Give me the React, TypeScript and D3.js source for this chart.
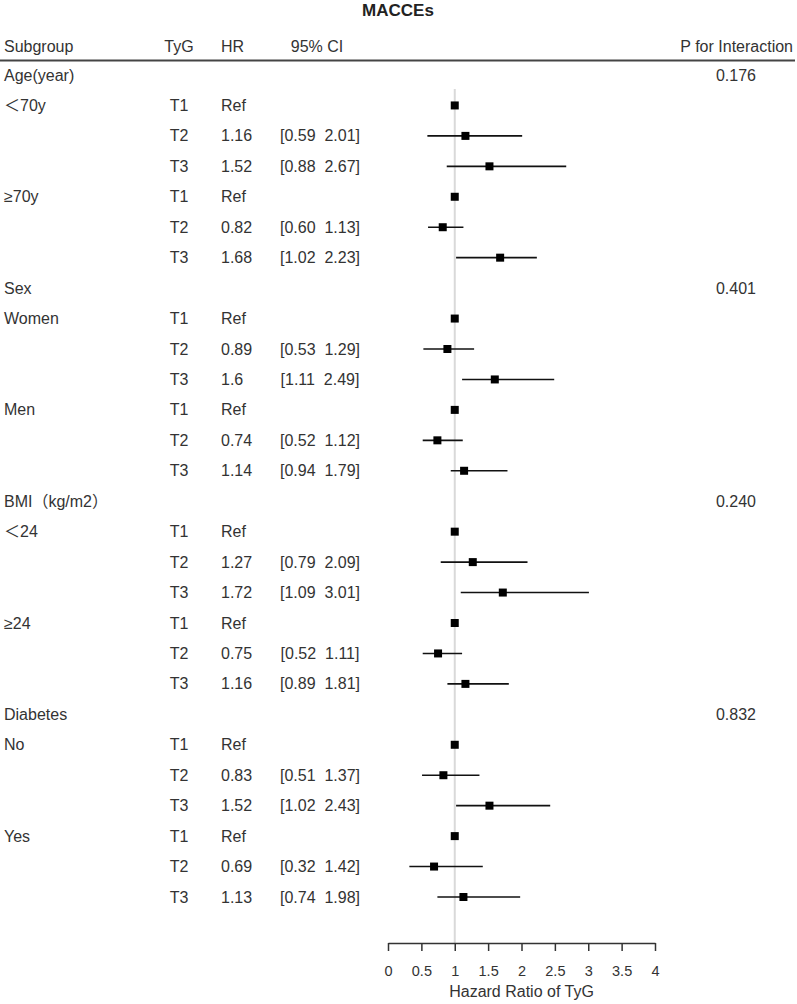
import React from "react";
import * as d3 from "d3";

const title = "MACCEs";
const headers = ["Subgroup", "TyG", "HR", "95% CI", "P for Interaction"];
const groups = ["Age(year)", "Sex", "BMI（kg/m2）", "Diabetes"];
const pInteraction = ["0.176", "0.401", "0.240", "0.832"];
const subgroups = [["＜70y", "≥70y"], ["Women", "Men"], ["＜24", "≥24"], ["No", "Yes"]];
const tertiles = ["T1", "T2", "T3"];
// per subgroup (8 subgroups) x tertile
const hr = [
  [1, 1.16, 1.52], [1, 0.82, 1.68],
  [1, 0.89, 1.6], [1, 0.74, 1.14],
  [1, 1.27, 1.72], [1, 0.75, 1.16],
  [1, 0.83, 1.52], [1, 0.69, 1.13],
];
const hrLabels = [
  ["Ref", "1.16", "1.52"], ["Ref", "0.82", "1.68"],
  ["Ref", "0.89", "1.6"], ["Ref", "0.74", "1.14"],
  ["Ref", "1.27", "1.72"], ["Ref", "0.75", "1.16"],
  ["Ref", "0.83", "1.52"], ["Ref", "0.69", "1.13"],
];
const lower = [
  [null, 0.59, 0.88], [null, 0.60, 1.02],
  [null, 0.53, 1.11], [null, 0.52, 0.94],
  [null, 0.79, 1.09], [null, 0.52, 0.89],
  [null, 0.51, 1.02], [null, 0.32, 0.74],
];
const upper = [
  [null, 2.01, 2.67], [null, 1.13, 2.23],
  [null, 1.29, 2.49], [null, 1.12, 1.79],
  [null, 2.09, 3.01], [null, 1.11, 1.81],
  [null, 1.37, 2.43], [null, 1.42, 1.98],
];
const lowerLabels = [
  ["", "0.59", "0.88"], ["", "0.60", "1.02"],
  ["", "0.53", "1.11"], ["", "0.52", "0.94"],
  ["", "0.79", "1.09"], ["", "0.52", "0.89"],
  ["", "0.51", "1.02"], ["", "0.32", "0.74"],
];
const upperLabels = [
  ["", "2.01", "2.67"], ["", "1.13", "2.23"],
  ["", "1.29", "2.49"], ["", "1.12", "1.79"],
  ["", "2.09", "3.01"], ["", "1.11", "1.81"],
  ["", "1.37", "2.43"], ["", "1.42", "1.98"],
];
const xTicks = [0, 0.5, 1, 1.5, 2, 2.5, 3, 3.5, 4];
const xTitle = "Hazard Ratio of TyG";

const W = 797;
const H = 1004;
const FONT = "'Liberation Sans', Arial, 'Noto Sans CJK SC', sans-serif";

type Row = {
  kind: "group" | "item";
  label: string;
  p?: string;
  tyg?: string;
  hr?: number;
  hrLabel?: string;
  lo?: number | null;
  hi?: number | null;
  ci?: string;
};

function buildRows(): Row[] {
  const rows: Row[] = [];
  groups.forEach((g, gi) => {
    rows.push({ kind: "group", label: g, p: pInteraction[gi] });
    subgroups[gi].forEach((s, si) => {
      const k = gi * 2 + si;
      tertiles.forEach((t, ti) => {
        rows.push({
          kind: "item",
          label: ti === 0 ? s : "",
          tyg: t,
          hr: hr[k][ti],
          hrLabel: hrLabels[k][ti],
          lo: lower[k][ti],
          hi: upper[k][ti],
          ci: lowerLabels[k][ti] ? `[${lowerLabels[k][ti]}  ${upperLabels[k][ti]}]` : "",
        });
      });
    });
  });
  return rows;
}

const rows = buildRows();

export default function App() {
  const axisRef = React.useRef<SVGGElement>(null);
  const x = d3.scaleLinear().domain([0, 4]).range([388, 655]);
  const y = d3.scaleLinear().domain([0, rows.length - 1]).range([75, 897]);
  const axisY = 943;

  React.useEffect(() => {
    if (!axisRef.current) return;
    const g = d3.select(axisRef.current);
    g.selectAll("*").remove();
    g.call(
      d3.axisBottom(x)
        .tickValues(xTicks)
        .tickSize(8)
        .tickSizeOuter(0)
        .tickPadding(15)
        .tickFormat((d) => String(d))
    );
    g.select(".domain").attr("stroke", "#333").attr("stroke-width", 1.5);
    g.selectAll(".tick line").attr("stroke", "#333").attr("stroke-width", 1.5);
    g.selectAll(".tick text")
      .attr("fill", "#333")
      .style("font-family", FONT)
      .style("font-size", "14.5px");
  }, []);

  return (
    <svg
      width={W}
      height={H}
      style={{ position: "absolute", left: 0, top: 0, background: "#fff" }}
      fontFamily={FONT}
    >
      <rect x={0} y={0} width={W} height={H} fill="#fff" />
      <text x={398} y={16} textAnchor="middle" fontWeight="bold" fontSize={17} fill="#222">
        {title}
      </text>
      {/* header */}
      <g fontSize={16} fill="#333">
        <text x={4} y={52}>{headers[0]}</text>
        <text x={179} y={52} textAnchor="middle">{headers[1]}</text>
        <text x={221} y={52}>{headers[2]}</text>
        <text x={317} y={52} textAnchor="middle">{headers[3]}</text>
        <text x={793} y={52} textAnchor="end">{headers[4]}</text>
      </g>
      <line x1={0} x2={795} y1={60.5} y2={60.5} stroke="#444" strokeWidth={2} />
      {/* reference line */}
      <line x1={x(1)} x2={x(1)} y1={89} y2={axisY} stroke="#d9d9d9" strokeWidth={2} />
      {/* rows */}
      <g fontSize={16} fill="#333">
        {rows.map((r, i) => {
          const cy = y(i);
          return (
            <g key={i}>
              {r.label && (
                <text x={4} y={cy} dy="0.35em">{r.label}</text>
              )}
              {r.kind === "group" && (
                <text x={736} y={cy} dy="0.35em" textAnchor="middle">{r.p}</text>
              )}
              {r.kind === "item" && (
                <>
                  <text x={179} y={cy} dy="0.35em" textAnchor="middle">{r.tyg}</text>
                  <text x={221} y={cy} dy="0.35em">{r.hrLabel}</text>
                  {r.ci && (
                    <text x={320} y={cy} dy="0.35em" textAnchor="middle" style={{ whiteSpace: "pre" }}>
                      {r.ci}
                    </text>
                  )}
                </>
              )}
            </g>
          );
        })}
      </g>
      {/* forest marks */}
      <g>
        {rows.map((r, i) => {
          if (r.kind !== "item") return null;
          const cy = y(i);
          return (
            <g key={i}>
              {r.lo != null && r.hi != null && (
                <line x1={x(r.lo)} x2={x(r.hi)} y1={cy} y2={cy} stroke="#111" strokeWidth={1.6} />
              )}
              <rect x={x(r.hr!) - 4} y={cy - 4} width={8} height={8} fill="#000" />
            </g>
          );
        })}
      </g>
      <g ref={axisRef} transform={`translate(0,${axisY})`} />
      <text x={(x(0) + x(4)) / 2} y={997} textAnchor="middle" fontSize={16} fill="#333">
        {xTitle}
      </text>
    </svg>
  );
}
